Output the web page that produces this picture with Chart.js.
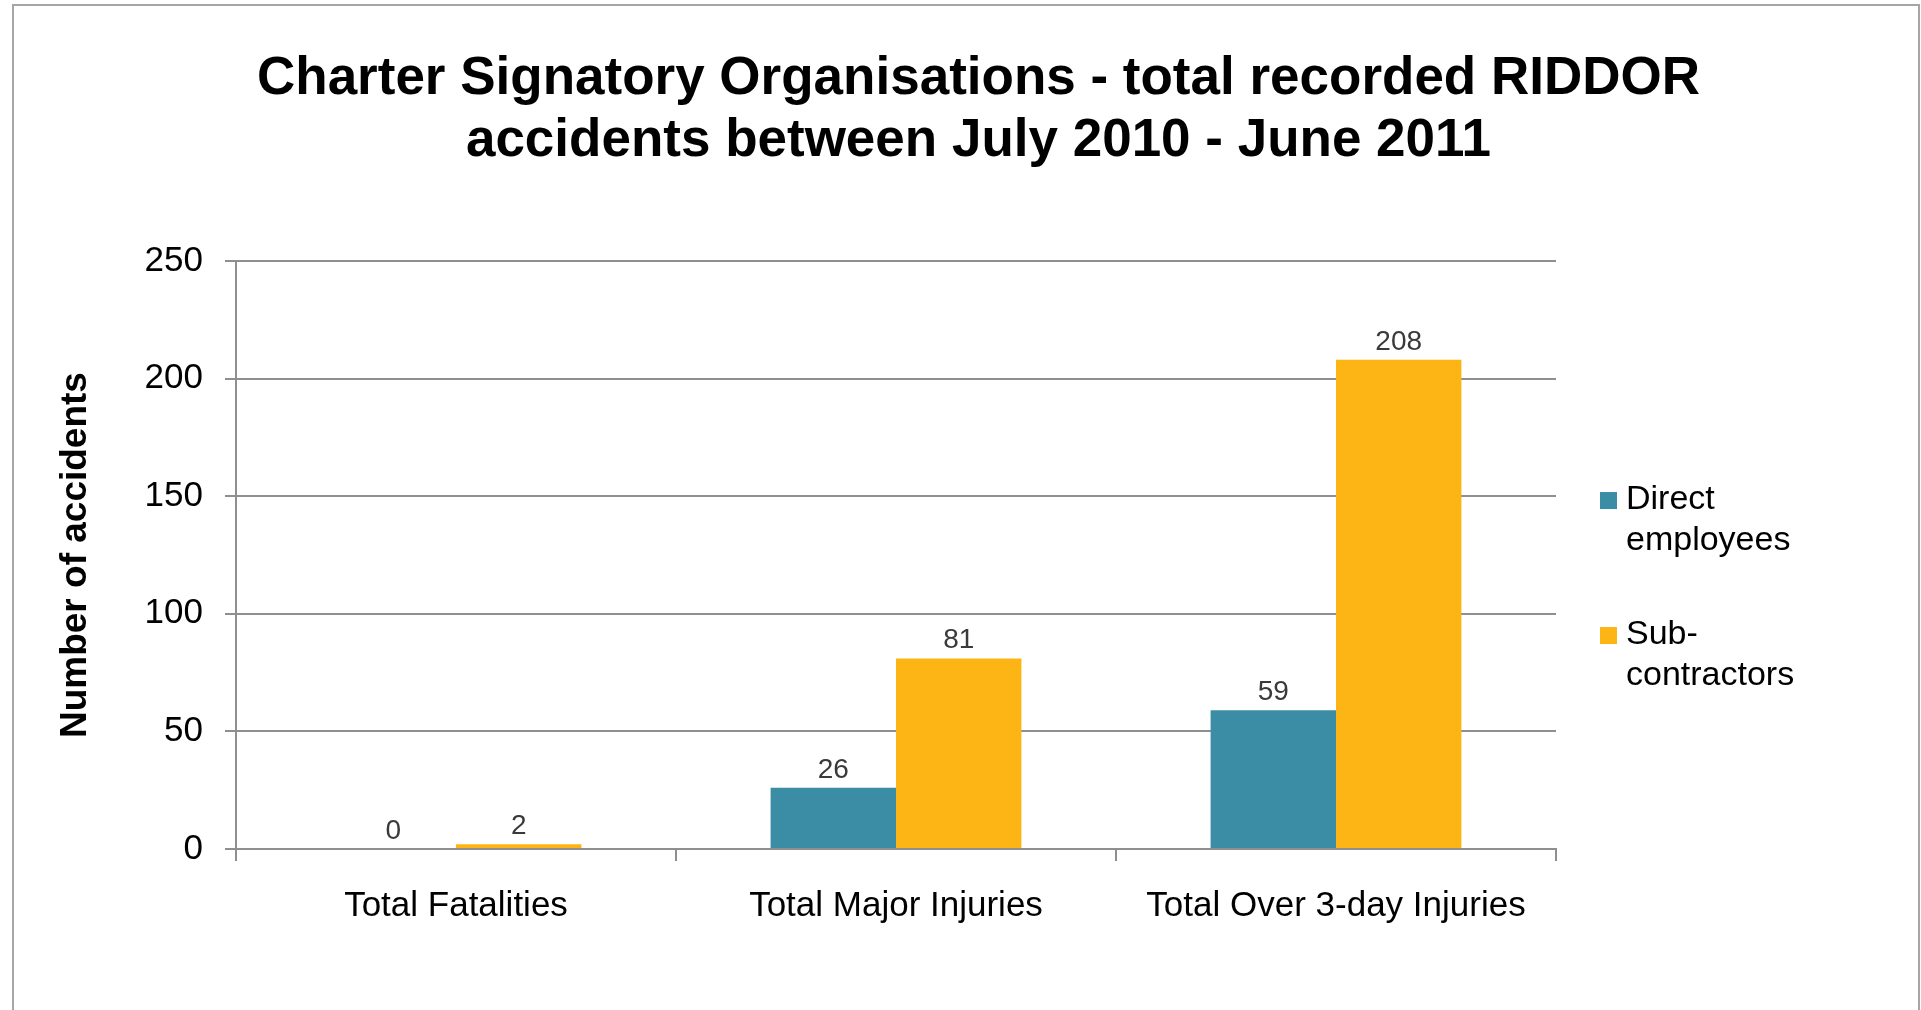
<!DOCTYPE html>
<html>
<head>
<meta charset="utf-8">
<script src="https://cdn.jsdelivr.net/npm/chart.js@4/dist/chart.umd.min.js"></script>
<style>
    html, body { margin: 0; padding: 0; background: #fff; overflow: hidden; }
    #frame {
        position: absolute; left: 12px; top: 4px; width: 1904px; height: 1020px;
        border: 2px solid #a6a6a6; border-bottom: none;
    }
    #chart { position: absolute; left: 0; top: 0; }
</style>
</head>
<body>
<div id="frame"></div>
<canvas id="chart" width="1921" height="1010"></canvas>
<script>
// data
const categories = ["Total Fatalities", "Total Major Injuries", "Total Over 3-day Injuries"];
const seriesNames = ["Direct employees", "Sub-contractors"];
const legendLines = [["Direct", "employees"], ["Sub-", "contractors"]];
const directEmployees = [0, 26, 59];
const subContractors = [2, 81, 208];
const yTicks = [0, 50, 100, 150, 200, 250];
const titleLines = ["Charter Signatory Organisations - total recorded RIDDOR",
                    "accidents between July 2010 - June 2011"];
const yTitle = "Number of accidents";

const FONT = "'Liberation Sans', Arial, sans-serif";
const TEAL = "#3a8da5";
const GOLD = "#fdb515";
const GRID = "#8f8f8f";

// value labels above each bar
const valueLabels = {
    id: "valueLabels",
    afterDatasetsDraw(chart) {
        const ctx = chart.ctx;
        ctx.save();
        ctx.font = "28px " + FONT;
        ctx.fillStyle = "#3a3a3a";
        ctx.textAlign = "center";
        ctx.textBaseline = "middle";
        chart.data.datasets.forEach((ds, i) => {
            chart.getDatasetMeta(i).data.forEach((bar, j) => {
                ctx.fillText(String(ds.data[j]), bar.x, bar.y - 18);
            });
        });
        ctx.restore();
    }
};

// legend on the right with wrapped labels
const sideLegend = {
    id: "sideLegend",
    afterDraw(chart) {
        const ctx = chart.ctx;
        const area = chart.chartArea;
        const x = area.right + 44;
        let y = (area.top + area.bottom) / 2 - 55;
        ctx.save();
        ctx.font = "34px " + FONT;
        ctx.textBaseline = "middle";
        ctx.textAlign = "left";
        chart.data.datasets.forEach((ds, i) => {
            ctx.fillStyle = ds.backgroundColor;
            ctx.fillRect(x, y - 8, 17, 17);
            ctx.fillStyle = "#000";
            legendLines[i].forEach((line, k) => {
                ctx.fillText(line, x + 26, y + k * 41);
            });
            y += 135;
        });
        ctx.restore();
    }
};

new Chart(document.getElementById("chart"), {
    type: "bar",
    data: {
        labels: categories,
        datasets: [
            { label: seriesNames[0], data: directEmployees, backgroundColor: TEAL },
            { label: seriesNames[1], data: subContractors, backgroundColor: GOLD }
        ]
    },
    options: {
        responsive: false,
        animation: false,
        devicePixelRatio: 1,
        layout: { padding: { left: 36, right: 0, top: 0, bottom: 59 } },
        datasets: { bar: { categoryPercentage: 0.57, barPercentage: 1.0 } },
        plugins: {
            legend: { display: false },
            tooltip: { enabled: false },
            title: {
                display: true,
                text: titleLines,
                color: "#000",
                font: { family: FONT, size: 53, weight: "bold", lineHeight: 1.18 },
                padding: { top: 48, bottom: 88 }
            }
        },
        scales: {
            x: {
                grid: { drawOnChartArea: false, color: GRID, lineWidth: 2, tickLength: 12 },
                border: { color: GRID, width: 2 },
                ticks: { color: "#000", padding: 24, font: { family: FONT, size: 35 } }
            },
            y: {
                min: 0,
                max: 250,
                afterBuildTicks: (s) => { s.ticks = yTicks.map(v => ({ value: v })); },
                afterFit: (s) => { s.width = 200; },
                grid: { color: GRID, lineWidth: 2, tickLength: 11 },
                border: { color: GRID, width: 2 },
                ticks: { color: "#000", padding: 22, font: { family: FONT, size: 35 } },
                title: {
                    display: true,
                    text: yTitle,
                    color: "#000",
                    font: { family: FONT, size: 37, weight: "bold" },
                    padding: { top: 18, bottom: 0 }
                }
            },
            // empty axis that only keeps room for the side legend
            side: {
                type: "linear",
                position: "right",
                display: true,
                grid: { display: false },
                border: { display: false },
                ticks: { display: false },
                afterFit: (s) => { s.width = 365; }
            }
        }
    },
    plugins: [valueLabels, sideLegend]
});
</script>
</body>
</html>
